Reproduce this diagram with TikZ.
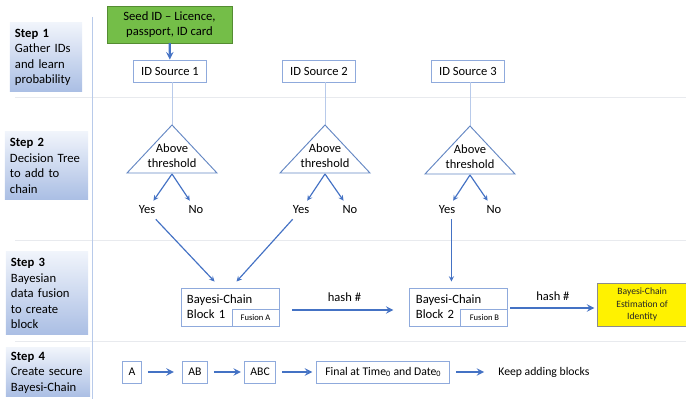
\documentclass[tikz,border=0pt]{standalone}
\usepackage{fontspec}
\setmainfont{Carlito}
\usepackage{xcolor}
\usepackage{tikz}
\usetikzlibrary{arrows, positioning, calc}

\definecolor{boxline}{RGB}{143,170,220}
\definecolor{arrowblue}{RGB}{68,114,196}
\definecolor{seedgreen}{RGB}{116,190,72}
\definecolor{seedline}{RGB}{84,140,50}
\definecolor{sepgray}{RGB}{232,234,238}
\definecolor{laneblue}{RGB}{184,202,234}
\definecolor{steptop}{RGB}{240,244,251}
\definecolor{stepbottom}{RGB}{170,190,228}
\definecolor{triline}{RGB}{100,135,195}

\tikzstyle{stepbox} = [rectangle, top color=steptop, bottom color=stepbottom, draw=none, align=left, inner xsep=0.15cm, inner ysep=0.05cm, font=\fontsize{10.8}{13.2}\selectfont]
\tikzstyle{seedbox} = [rectangle, draw=seedline, fill=seedgreen, minimum width=3.75cm, minimum height=1.11cm, align=center, font=\fontsize{10.8}{12.8}\selectfont]
\tikzstyle{source} = [rectangle, draw=boxline, line width=0.8pt, fill=white, minimum width=2.2cm, minimum height=0.66cm]
\tikzstyle{block} = [rectangle, draw=boxline, line width=0.8pt, minimum width=2.94cm, minimum height=1.14cm, text width=2.58cm, inner xsep=0.18cm, align=left, font=\fontsize{10.8}{12.8}\selectfont]
\tikzstyle{fusion} = [rectangle, draw=boxline, line width=0.8pt, minimum width=1.41cm, minimum height=0.51cm, font=\fontsize{7.3}{8}\selectfont]
\tikzstyle{estim} = [rectangle, draw=black!45, fill=yellow, minimum width=2.67cm, minimum height=1.29cm, align=center, text=black!85, font=\fontsize{8.2}{10.6}\selectfont]
\tikzstyle{chainbox} = [rectangle, draw=boxline, line width=0.8pt, minimum height=0.66cm, inner xsep=0.18cm, font=\fontsize{10}{12}\selectfont]
\tikzstyle{answer} = [inner sep=0.15cm]
\tikzstyle{lane} = [draw=laneblue, line width=0.8pt]
\tikzstyle{arrow} = [->, >=stealth, draw=arrowblue, line width=1pt]
\tikzstyle{fatarrow} = [->, >=stealth, draw=arrowblue, line width=1.8pt]

\begin{document}
\begin{tikzpicture}[x=0.03cm, y=-0.03cm, font=\fontsize{10.7}{13}\selectfont]
\useasboundingbox (0,0) rectangle (686,399);

% lanes
\draw[sepgray, line width=0.8pt] (15,97) -- (686,97);
\draw[sepgray, line width=0.8pt] (15,240) -- (686,240);
\draw[sepgray, line width=0.8pt] (15,341) -- (686,341);
\draw[lane] (92,17) -- (92,399);

\node[stepbox, minimum width=2.16cm, minimum height=2.07cm, text width=1.86cm] (step1) at (46,57.5) {\textbf{Step 1}\\Gather IDs\\and learn\\probability};
\node[stepbox, minimum width=2.49cm, minimum height=2.04cm, text width=2.19cm] (step2) at (46.5,166) {\textbf{Step 2}\\Decision Tree\\to add to\\chain};
\node[stepbox, minimum width=2.46cm, minimum height=2.49cm, text width=2.16cm] (step3) at (47,293.5) {\textbf{Step 3}\\Bayesian\\data fusion\\to create\\block};
\node[stepbox, minimum width=2.52cm, minimum height=1.47cm, text width=2.22cm] (step4) at (48,372.5) {\textbf{Step 4}\\Create secure\\Bayesi-Chain};

% step 1
\node[seedbox] (seed) at (169.5,24.5) {Seed ID -- Licence,\\passport, ID card};
\node[source] (src1) at (170,71) {ID Source 1};
\node[source, right=2.24cm of src1] (src2) {ID Source 2};
\node[source, right=2.24cm of src2] (src3) {ID Source 3};
\draw[fatarrow] (seed) -- (src1);

% step 2
\coordinate (top1) at (172,125);
\coordinate (top2) at (325,125);
\coordinate (top3) at (470,126);
\draw[lane] (src1.south -| top1) -- (top1);
\draw[lane] (src2.south -| top2) -- (top2);
\draw[lane] (src3.south -| top3) -- (top3);

\draw[triline, line width=0.8pt] (top1) -- ++(-45,48) -- ++(90,0) -- cycle;
\draw[triline, line width=0.8pt] (top2) -- ++(-45,48) -- ++(90,0) -- cycle;
\draw[triline, line width=0.8pt] (top3) -- ++(-45,48) -- ++(90,0) -- cycle;
\coordinate (base1) at ($(top1)+(0,49)$);
\coordinate (base2) at ($(top2)+(0,49)$);
\coordinate (base3) at ($(top3)+(0,49)$);
\node[align=center] (thr1) at ($(top1)+(0,31)$) {Above\\threshold};
\node[align=center] (thr2) at ($(top2)+(0,31)$) {Above\\threshold};
\node[align=center] (thr3) at ($(top3)+(0,31)$) {Above\\threshold};

\node[answer] (yes1) at ($(top1)+(-25,85)$) {Yes};
\node[answer] (no1) at ($(top1)+(24,85)$) {No};
\node[answer] (yes2) at ($(top2)+(-24,85)$) {Yes};
\node[answer] (no2) at ($(top2)+(25,85)$) {No};
\node[answer] (yes3) at ($(top3)+(-23,84)$) {Yes};
\node[answer] (no3) at ($(top3)+(24,84)$) {No};
\draw[arrow] (base1) -- (yes1);
\draw[arrow] (base1) -- (no1);
\draw[arrow] (base2) -- (yes2);
\draw[arrow] (base2) -- (no2);
\draw[arrow] (base3) -- (yes3);
\draw[arrow] (base3) -- (no3);

% step 3
\node[block] (blk1) at (230,307) {Bayesi-Chain\\Block 1};
\node[fusion, anchor=south east] (fusa) at (blk1.south east) {Fusion A};
\node[block, right=3.9cm of blk1] (blk2) {Bayesi-Chain\\Block 2};
\node[fusion, anchor=south east] (fusb) at (blk2.south east) {Fusion B};
\node[estim, right=2.67cm of blk2.south east, anchor=south west] (estim) {Bayesi-Chain\\Estimation of\\Identity};

\coordinate (in1) at ($(blk1.north west)+(34,-6)$);
\coordinate (in2) at ($(blk1.north west)+(56,-6)$);
\coordinate (in3) at ($(blk2.north west)+(42,-6)$);
\draw[arrow] (yes1) -- (in1);
\draw[arrow] (yes2) -- (in2);
\draw[arrow] (yes3.south -| in3) -- (in3);

\draw[fatarrow, shorten <=0.39cm, shorten >=0.48cm] ($(blk1.east)+(0,3)$) -- node[above=0.1cm] {hash \#} ($(blk2.west)+(0,3)$);
\draw[fatarrow, shorten <=0.06cm, shorten >=0.09cm] ($(blk2.east)+(0,1)$) -- node[above=0.07cm] {hash \#} ($(blk2.east -| estim.west)+(0,1)$);

% step 4
\node[chainbox] (cha) at (132,372) {A};
\node[chainbox, right=1.2cm of cha] (chab) {AB};
\node[chainbox, right=1.08cm of chab] (chabc) {ABC};
\node[chainbox, minimum width=3.99cm, right=1.2cm of chabc] (chfin) {Final at Time\textsubscript{0} and Date\textsubscript{0}};
\node[right=1.32cm of chfin, font=\fontsize{10}{12}\selectfont] (keep) {Keep adding blocks};
\draw[fatarrow, shorten <=0.18cm, shorten >=0.24cm] (cha) -- (chab);
\draw[fatarrow, shorten <=0.18cm, shorten >=0.09cm] (chab) -- (chabc);
\draw[fatarrow, shorten <=0.18cm, shorten >=0.12cm] (chabc) -- (chfin);
\draw[fatarrow, shorten <=0.18cm, shorten >=0.3cm] (chfin) -- (keep);
\end{tikzpicture}
\end{document}
